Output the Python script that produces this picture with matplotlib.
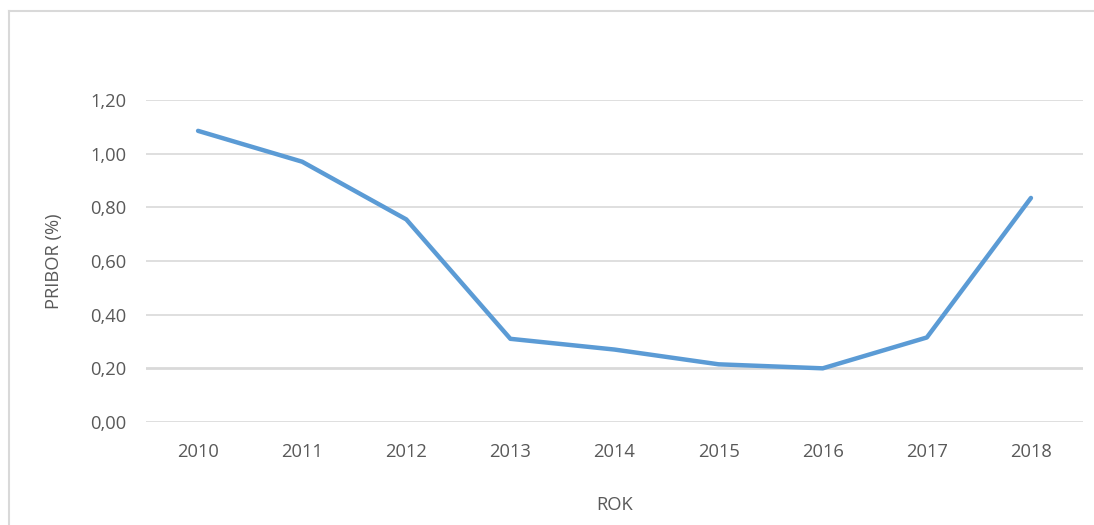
import matplotlib.pyplot as plt
from matplotlib.lines import Line2D

# data
years = ['2010', '2011', '2012', '2013', '2014', '2015', '2016', '2017', '2018']
pribor = [1.085, 0.97, 0.755, 0.31, 0.27, 0.215, 0.20, 0.315, 0.835]
yticks = [0.0, 0.2, 0.4, 0.6, 0.8, 1.0, 1.2]

plt.rcParams['font.family'] = ['Open Sans', 'DejaVu Sans']
txt = '#595959'
grid = '#D9D9D9'

W, H = 1094, 525
fig = plt.figure(figsize=(W / 100, H / 100), dpi=100)
ax = fig.add_axes([146 / W, 1 - 422 / H, (1083 - 146) / W, 322 / H])

# chart frame (only top and left edges are inside the picture)
fy = 1 - 11 / H
fx = 8.5 / W
fig.lines.append(Line2D([fx, 1], [fy, fy], transform=fig.transFigure,
                        color=grid, linewidth=1.5))
fig.lines.append(Line2D([fx, fx], [0, fy], transform=fig.transFigure,
                        color=grid, linewidth=1.5))

x = list(range(len(years)))
ax.plot(x, pribor, color='#5B9BD5', linewidth=3.2, solid_capstyle='round', zorder=3)

ax.set_xlim(-0.5, len(years) - 0.5)
ax.set_ylim(0, 1.2)
ax.set_xticks(x)
ax.set_xticklabels(years)
ax.set_yticks(yticks)
ax.set_yticklabels([f'{v:.2f}'.replace('.', ',') for v in yticks])

for v in yticks:
    ax.axhline(v, color=grid, linewidth=2.0 if v == 0.2 else 1.2, zorder=1)

for s in ax.spines.values():
    s.set_visible(False)
ax.tick_params(length=0, colors=txt, labelsize=13.2)
ax.tick_params(axis='y', pad=14)
ax.tick_params(axis='x', pad=15)

ax.set_ylabel('PRIBOR (%)', color=txt, fontsize=13.2, labelpad=20)
ax.set_xlabel('ROK', color=txt, fontsize=13.2, labelpad=25)

fig.savefig('out.png', dpi=100)
